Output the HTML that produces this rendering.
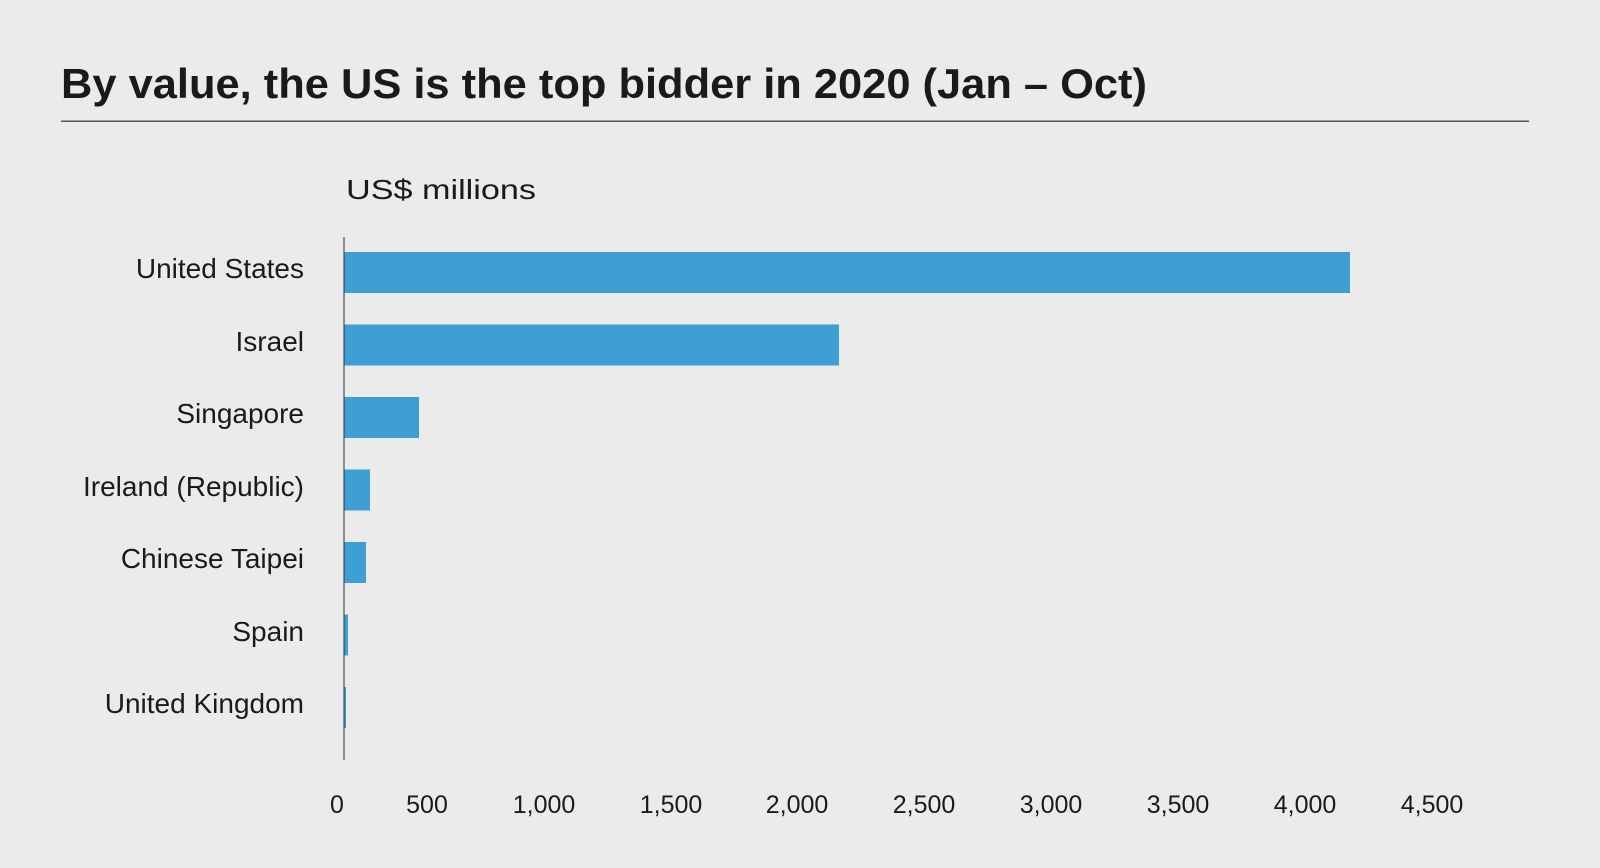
<!DOCTYPE html>
<html><head><meta charset="utf-8"><style>
html,body{margin:0;padding:0;background:#ebebeb;}
svg{display:block;}
text{font-family:"Liberation Sans Narrow","Liberation Sans",sans-serif;fill:#1a1a1a;}
</style></head><body>
<svg width="1600" height="868" viewBox="0 0 1600 868" xmlns="http://www.w3.org/2000/svg">
<rect width="1600" height="868" fill="#ebebeb"/>
<text x="61" y="98" font-size="42" font-weight="bold" textLength="1086" lengthAdjust="spacingAndGlyphs">By value, the US is the top bidder in 2020 (Jan – Oct)</text>
<rect x="61" y="120.5" width="1468" height="1.5" fill="#555"/>
<text x="346" y="199" font-size="28" textLength="190" lengthAdjust="spacingAndGlyphs">US$ millions</text>
<g fill="#3d9fd3">
<rect x="344" y="252" width="1006" height="41"/>
<rect x="344" y="324.5" width="495" height="41"/>
<rect x="344" y="397" width="75" height="41"/>
<rect x="344" y="469.5" width="26" height="41"/>
<rect x="344" y="542" width="22" height="41"/>
<rect x="344" y="614.5" width="4" height="41"/>
<rect x="344" y="687" width="2" height="41"/>
</g>
<rect x="343.5" y="237" width="1" height="523" fill="#333"/>
<g font-size="28" text-anchor="end">
<text x="304" y="278">United States</text>
<text x="304" y="351">Israel</text>
<text x="304" y="423">Singapore</text>
<text x="304" y="496">Ireland (Republic)</text>
<text x="304" y="568">Chinese Taipei</text>
<text x="304" y="641">Spain</text>
<text x="304" y="713">United Kingdom</text>
</g>
<g font-size="25" text-anchor="middle">
<text x="337" y="813">0</text>
<text x="427" y="813">500</text>
<text x="544" y="813">1,000</text>
<text x="671" y="813">1,500</text>
<text x="797" y="813">2,000</text>
<text x="924" y="813">2,500</text>
<text x="1051" y="813">3,000</text>
<text x="1178" y="813">3,500</text>
<text x="1305" y="813">4,000</text>
<text x="1432" y="813">4,500</text>
</g>
</svg>
</body></html>
